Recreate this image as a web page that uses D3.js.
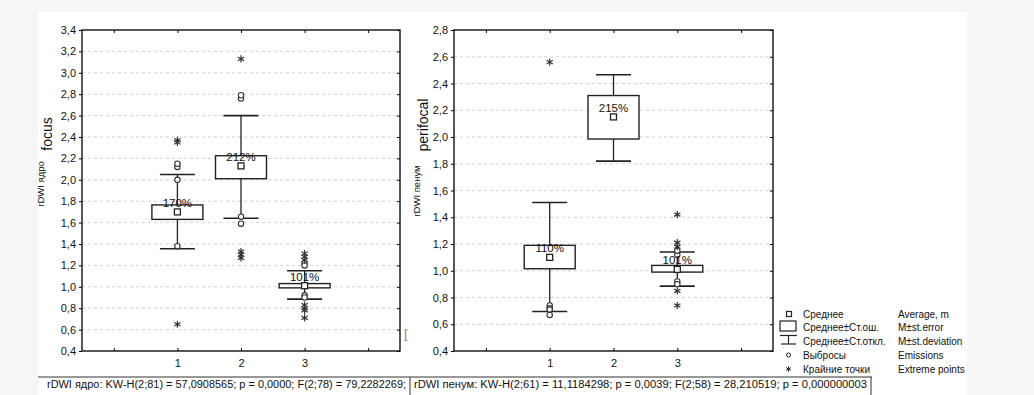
<!DOCTYPE html>
<html><head><meta charset="utf-8">
<script src="https://cdn.jsdelivr.net/npm/d3@7"></script>
<style>
body{margin:0;background:#f6f6f6;}
svg{display:block;font-family:"Liberation Sans",Arial,sans-serif;}
</style></head><body>
<svg id="c" width="1034" height="395"></svg>
<script>
// ---- data ----
const categories = [1, 2, 3];
const xTicksFrame = [0, 1, 2, 3, 4];
// left panel (focus / rDWI ядро)
const leftMean   = [1.70, 2.13, 1.01];
const leftSeLow  = [1.63, 2.01, 0.99];
const leftSeHigh = [1.765, 2.225, 1.03];
const leftSdLow  = [1.355, 1.64, 0.885];
const leftSdHigh = [2.05, 2.60, 1.15];
const leftOutliers = [[2.00, 1.38, 2.12, 2.15], [1.655, 1.59, 2.76, 2.79], [1.22, 1.20, 0.92, 0.90]];
const leftExtremes = [[2.35, 2.37, 0.65], [3.13, 1.33, 1.30, 1.27], [1.31, 1.28, 1.25, 0.83, 0.80, 0.78, 0.71]];
const leftLabels = ["170%", "212%", "101%"];
const leftYTicks = [0.4,0.6,0.8,1.0,1.2,1.4,1.6,1.8,2.0,2.2,2.4,2.6,2.8,3.0,3.2,3.4];
// right panel (perifocal / rDWI пенум)
const rightMean   = [1.10, 2.15, 1.01];
const rightSeLow  = [1.015, 1.985, 0.99];
const rightSeHigh = [1.19, 2.31, 1.04];
const rightSdLow  = [0.695, 1.82, 0.885];
const rightSdHigh = [1.51, 2.465, 1.14];
const rightOutliers = [[0.74, 0.72, 0.71, 0.67], [], [1.12, 1.15, 0.92, 0.90]];
const rightExtremes = [[2.56], [], [1.42, 1.21, 1.18, 0.85, 0.74]];
const rightLabels = ["110%", "215%", "101%"];
const rightYTicks = [0.4,0.6,0.8,1.0,1.2,1.4,1.6,1.8,2.0,2.2,2.4,2.6,2.8];
// legend + stats text
const legendRu = ["Среднее", "Среднее±Ст.ош.", "Среднее±Ст.откл.", "Выбросы", "Крайние точки"];
const legendEn = ["Average, m", "M±st.error", "M±st.deviation", "Emissions", "Extreme points"];
const statLeft = "rDWI ядро:  KW-H(2;81) = 57,0908565; p = 0,0000;  F(2;78) = 79,2282269;";
const statRight = "rDWI пенум:  KW-H(2;61) = 11,1184298; p = 0,0039;  F(2;58) = 28,210519;  p = 0,000000003";

const INK = "#111";
const svg = d3.select("#c");
svg.append("rect").attr("x",38).attr("y",12).attr("width",929).attr("height",383).attr("fill","#fff");

const fmt = v => d3.format(".1f")(v).replace(".", ",");

function panel(cfg){
  const x = d3.scaleLinear().domain([-0.5, 4.5]).range([cfg.x0, cfg.x1]);
  const y = d3.scaleLinear().domain(cfg.yDomain).range([351, 30]);
  const g = svg.append("g");
  g.selectAll("line.grid").data(cfg.yTicks.slice(1, -1)).join("line")
    .attr("x1", cfg.x0).attr("x2", cfg.x1)
    .attr("y1", d => y(d)).attr("y2", d => y(d))
    .attr("stroke", "#c8c8c8").attr("stroke-width", 0.8).attr("stroke-dasharray", "3,3");
  const ay = g.append("g").attr("transform", `translate(${cfg.x0},0)`)
    .call(d3.axisLeft(y).tickValues(cfg.yTicks).tickFormat(fmt).tickSize(3).tickPadding(3));
  ay.select(".domain").remove();
  ay.selectAll("text").attr("font-size", 11).attr("fill", INK).attr("font-family", "Liberation Sans, Arial");
  g.append("g").attr("transform", `translate(${cfg.x1},0)`)
    .call(d3.axisRight(y).tickValues(cfg.yTicks).tickSize(-3).tickFormat(""))
    .select(".domain").remove();
  g.append("g").attr("transform", `translate(0,30)`)
    .call(d3.axisTop(x).tickValues(xTicksFrame).tickSize(-3).tickFormat(""))
    .select(".domain").remove();
  g.append("g").attr("transform", `translate(0,351)`)
    .call(d3.axisBottom(x).tickValues(xTicksFrame).tickSize(-3).tickFormat(""))
    .select(".domain").remove();
  const ab = g.append("g").attr("transform", `translate(0,351)`)
    .call(d3.axisBottom(x).tickValues(categories).tickSize(0).tickPadding(8).tickFormat(d3.format("d")));
  ab.select(".domain").remove();
  ab.selectAll("text").attr("font-size", 11).attr("fill", INK).attr("font-family", "Liberation Sans, Arial");
  g.append("rect").attr("x", cfg.x0).attr("y", 30).attr("width", cfg.x1 - cfg.x0).attr("height", 321)
    .attr("fill", "none").attr("stroke", INK).attr("stroke-width", 1.4);

  categories.forEach((c, i) => {
    const cx = x(c);
    g.append("line").attr("x1", cx).attr("x2", cx).attr("y1", y(cfg.sdLow[i])).attr("y2", y(cfg.sdHigh[i]))
      .attr("stroke", "#222").attr("stroke-width", 1.3);
    [cfg.sdLow[i], cfg.sdHigh[i]].forEach(v => {
      g.append("line").attr("x1", cx - 17.5).attr("x2", cx + 17.5).attr("y1", y(v)).attr("y2", y(v))
        .attr("stroke", "#222").attr("stroke-width", 1.6);
    });
    g.append("rect").attr("x", cx - 25.5).attr("width", 51)
      .attr("y", y(cfg.seHigh[i])).attr("height", y(cfg.seLow[i]) - y(cfg.seHigh[i]))
      .attr("fill", "#fff").attr("stroke", "#222").attr("stroke-width", 1.4);
    cfg.out[i].forEach(v => {
      g.append("circle").attr("cx", cx).attr("cy", y(v)).attr("r", 2.7)
        .attr("fill", "#fff").attr("stroke", "#333").attr("stroke-width", 1.1);
    });
    cfg.ext[i].forEach(v => {
      g.append("path").attr("d", d3.symbol(d3.symbolAsterisk, 36)())
        .attr("transform", `translate(${cx},${y(v)})`)
        .attr("fill", "none").attr("stroke", "#333").attr("stroke-width", 1.2);
    });
    g.append("text").attr("x", cx).attr("y", y(cfg.mean[i]) - 5).attr("text-anchor", "middle")
      .attr("font-size", 11.5).attr("fill", INK).text(cfg.labels[i]);
    g.append("rect").attr("x", cx - 3).attr("y", y(cfg.mean[i]) - 3).attr("width", 6).attr("height", 6)
      .attr("fill", "#fff").attr("stroke", "#222").attr("stroke-width", 1.3);
  });
  g.append("text").attr("transform", `translate(${cfg.titleX},${cfg.titleY}) rotate(-90)`)
    .attr("text-anchor", "middle").attr("font-size", 14).attr("fill", INK).text(cfg.title);
  g.append("text").attr("transform", `translate(${cfg.subX},${cfg.subY}) rotate(-90)`)
    .attr("text-anchor", "middle").attr("font-size", 9.5).attr("fill", INK).text(cfg.sub);
}

panel({x0: 82, x1: 400, yDomain: [0.4, 3.4], yTicks: leftYTicks,
  mean: leftMean, seLow: leftSeLow, seHigh: leftSeHigh, sdLow: leftSdLow, sdHigh: leftSdHigh,
  out: leftOutliers, ext: leftExtremes, labels: leftLabels,
  title: "focus", titleX: 52, titleY: 134, sub: "rDWI ядро", subX: 44, subY: 184});
panel({x0: 454, x1: 773, yDomain: [0.4, 2.8], yTicks: rightYTicks,
  mean: rightMean, seLow: rightSeLow, seHigh: rightSeHigh, sdLow: rightSdLow, sdHigh: rightSdHigh,
  out: rightOutliers, ext: rightExtremes, labels: rightLabels,
  title: "perifocal", titleX: 428, titleY: 125, sub: "rDWI пенум", subX: 420, subY: 191});

svg.append("text").attr("x", 404).attr("y", 338).attr("font-size", 13).attr("fill", "#888").text("[");

const lg = svg.append("g").attr("fill", INK);
const rowY = [314, 327.5, 341, 355, 369];
legendRu.forEach((t, i) => {
  lg.append("text").attr("x", 803).attr("y", rowY[i] + 3.5).attr("font-size", 10).text(t);
  lg.append("text").attr("x", 898).attr("y", rowY[i] + 3.5).attr("font-size", 10).text(legendEn[i]);
});
lg.append("rect").attr("x", 786.5).attr("y", rowY[0] - 2.5).attr("width", 5).attr("height", 5)
  .attr("fill", "#fff").attr("stroke", "#222").attr("stroke-width", 1.2);
lg.append("rect").attr("x", 780).attr("y", 321).attr("width", 16).attr("height", 10)
  .attr("fill", "#fff").attr("stroke", "#222").attr("stroke-width", 1.2);
lg.append("line").attr("x1", 780).attr("x2", 797).attr("y1", 335.5).attr("y2", 335.5).attr("stroke", "#222").attr("stroke-width", 1.2);
lg.append("line").attr("x1", 788.5).attr("x2", 788.5).attr("y1", 335.5).attr("y2", 344).attr("stroke", "#222").attr("stroke-width", 1.2);
lg.append("line").attr("x1", 781).attr("x2", 796).attr("y1", 344).attr("y2", 344).attr("stroke", "#222").attr("stroke-width", 1.2);
lg.append("circle").attr("cx", 788.5).attr("cy", rowY[3]).attr("r", 2).attr("fill", "#fff").attr("stroke", "#222");
lg.append("path").attr("d", d3.symbol(d3.symbolAsterisk, 20)()).attr("transform", `translate(788.5,${rowY[4]})`)
  .attr("fill", "none").attr("stroke", "#222");

svg.append("line").attr("x1", 38).attr("x2", 872).attr("y1", 377).attr("y2", 377).attr("stroke", "#333").attr("stroke-width", 1);
svg.append("line").attr("x1", 410).attr("x2", 410).attr("y1", 377).attr("y2", 395).attr("stroke", "#333").attr("stroke-width", 1);
svg.append("line").attr("x1", 871).attr("x2", 871).attr("y1", 377).attr("y2", 395).attr("stroke", "#333").attr("stroke-width", 1);
svg.append("text").attr("x", 47).attr("y", 388).attr("font-size", 10).attr("fill", INK)
  .attr("textLength", 359).attr("lengthAdjust", "spacingAndGlyphs").text(statLeft);
svg.append("text").attr("x", 414).attr("y", 388).attr("font-size", 10).attr("fill", INK)
  .attr("textLength", 453).attr("lengthAdjust", "spacingAndGlyphs").text(statRight);
</script>
</body></html>
